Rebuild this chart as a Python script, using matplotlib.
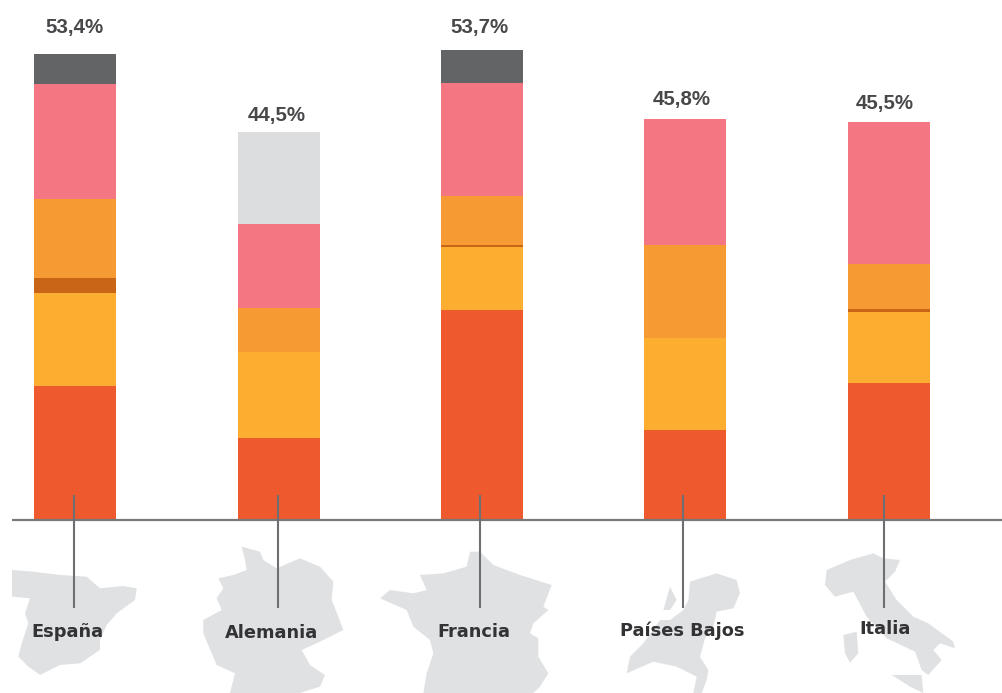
import matplotlib
matplotlib.use('Agg')
import matplotlib.pyplot as plt
from matplotlib.patches import Polygon

# values, % of total
paises = ['España', 'Alemania', 'Francia', 'Países Bajos', 'Italia']
totales = ['53,4%', '44,5%', '53,7%', '45,8%', '45,5%']
rojo = [15.3, 9.4, 24.0, 10.3, 15.7]
amarillo = [10.7, 9.8, 7.2, 10.5, 8.1]
naranja_osc = [1.7, 0, 0.3, 0, 0.3]
naranja = [9.0, 5.0, 5.5, 10.7, 5.2]
rosa = [13.2, 9.7, 13.0, 14.3, 16.2]
gris_osc = [3.4, 0, 3.7, 0, 0]
gris_cl = [0, 10.5, 0, 0, 0]

series = [rojo, amarillo, naranja_osc, naranja, rosa, gris_osc, gris_cl]
colores = ['#EE5A2E', '#FBAE2F', '#C96517', '#F69A33', '#F47682', '#636466', '#DCDDDF']

W, H = 1003, 693
base_px = 520
px_por_pct = 8.745
centros = [75, 279, 482.5, 685.5, 889]
ancho = 82
color_mapa = '#E0E1E3'
color_texto = '#333336'

fig = plt.figure(figsize=[W / 100, H / 100], dpi=100)

# overlay in pixel coordinates for the maps and the leader lines
deco = fig.add_axes([0, 0, 1, 1])
deco.set_xlim(0, W)
deco.set_ylim(H, 0)
deco.axis('off')

ax = fig.add_axes([0, 0, 1, 1], zorder=1)
ax.patch.set_alpha(0)
ax.set_xlim(0, W)
ax.set_ylim(-(H - base_px) / px_por_pct, base_px / px_por_pct)
ax.axis('off')

abajo = [0] * len(paises)
for valores, color in zip(series, colores):
    ax.bar(centros, valores, width=ancho, bottom=abajo, color=color, linewidth=0)
    abajo = [a + v for a, v in zip(abajo, valores)]

def mapa(puntos):
    xy = [(x / 3, 510 + y / 3) for x, y in puntos]
    deco.add_patch(Polygon(xy, closed=True, facecolor=color_mapa, edgecolor='none'))

mapa([(36, 180), (100, 185), (180, 195), (260, 200), (300, 235), (370, 228), (410, 235),
      (405, 270), (350, 310), (320, 345), (300, 390), (300, 420), (240, 460), (180, 465),
      (120, 495), (85, 470), (55, 440), (65, 400), (85, 340), (75, 310), (90, 265), (36, 260)])
mapa([(725, 110), (780, 125), (790, 150), (830, 175), (900, 145), (960, 170), (1000, 215),
      (995, 270), (1015, 320), (1030, 360), (960, 395), (905, 420), (930, 465), (975, 495),
      (960, 530), (900, 549), (690, 549), (705, 490), (650, 465), (610, 370), (610, 330),
      (665, 300), (650, 265), (670, 235), (655, 205), (700, 195), (740, 180), (735, 150)])
mapa([(1410, 125), (1440, 125), (1480, 165), (1560, 195), (1655, 225), (1630, 290), (1645, 300),
      (1600, 340), (1590, 370), (1615, 385), (1615, 440), (1645, 490), (1620, 530), (1600, 549),
      (1270, 549), (1280, 490), (1300, 430), (1290, 390), (1240, 350), (1220, 300), (1140, 265),
      (1170, 240), (1240, 250), (1280, 240), (1260, 195), (1330, 190), (1400, 170)])
# Paises Bajos and Italia crops start at x=520
mapa([(x + 1560, y) for x, y in [(510, 215), (590, 190), (650, 210), (660, 250), (640, 295),
      (590, 305), (580, 350), (555, 385), (540, 440), (565, 480), (560, 510), (545, 549),
      (520, 549), (530, 500), (470, 470), (400, 455), (320, 490), (330, 440), (370, 400),
      (420, 330), (450, 330), (490, 300), (505, 270)]])
mapa([(x + 1560, y) for x, y in [(430, 300), (450, 230), (470, 270), (450, 300)]])
mapa([(x + 1560, y) for x, y in [(920, 180), (990, 150), (1060, 130), (1090, 145), (1140, 150),
      (1125, 185), (1095, 215), (1130, 270), (1180, 320), (1225, 340), (1300, 395), (1305, 415),
      (1260, 400), (1240, 420), (1265, 450), (1225, 495), (1205, 480), (1185, 425), (1100, 385),
      (1040, 320), (1000, 245), (945, 260), (915, 225)]])
mapa([(x + 1560, y) for x, y in [(970, 375), (1010, 365), (1015, 430), (990, 458), (975, 430)]])
mapa([(x + 1560, y) for x, y in [(1115, 495), (1205, 495), (1210, 549), (1170, 530)]])

# top layer for baseline, leaders and text
top = fig.add_axes([0, 0, 1, 1], zorder=2)
top.patch.set_alpha(0)
top.set_xlim(0, W)
top.set_ylim(H, 0)
top.axis('off')

top.plot([12, W], [base_px, base_px], color='#77787A', lw=1.6, solid_capstyle='butt')
for x in [74, 278, 480, 683, 884]:
    top.plot([x, x], [495, 608], color='#6E6F72', lw=1.5, solid_capstyle='butt')

pos_total = [(74, 28), (277, 115), (479, 27), (682, 99), (885, 103)]
for t, (x, y) in zip(totales, pos_total):
    top.text(x, y, t, ha='center', va='center', fontsize=14.8, color='#48484B',
             family='Liberation Sans', weight='bold')

pos_pais = [(67, 632), (272, 633), (473.5, 632), (682, 631), (885, 629)]
for p, (x, y) in zip(paises, pos_pais):
    top.text(x, y, p, ha='center', va='center', fontsize=12.8, color=color_texto,
             family='DejaVu Sans', weight='bold')

fig.savefig('out.png', dpi=100)
